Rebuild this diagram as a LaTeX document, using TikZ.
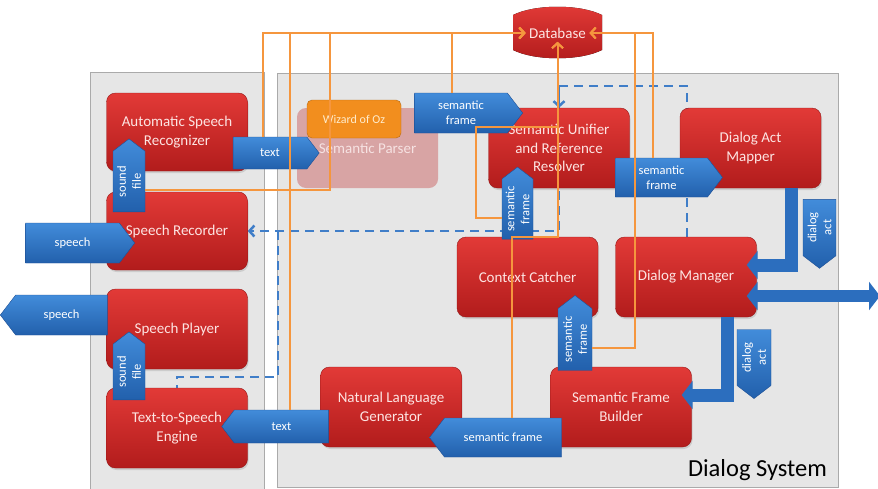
\documentclass[tikz,border=0pt]{standalone}
\usepackage{fontspec}
\setmainfont{Carlito}
\usetikzlibrary{shapes.symbols,arrows.meta,shadows}

\definecolor{boxtop}{RGB}{226,58,55}
\definecolor{boxbot}{RGB}{178,28,28}
\definecolor{boxtxt}{RGB}{253,228,226}
\definecolor{sigtop}{RGB}{66,140,218}
\definecolor{sigbot}{RGB}{34,96,172}
\definecolor{sigline}{RGB}{30,80,150}
\definecolor{orln}{RGB}{245,150,62}
\definecolor{dsh}{RGB}{64,126,200}
\definecolor{barblue}{RGB}{44,110,190}
\definecolor{panel}{RGB}{230,230,230}
\definecolor{panelln}{RGB}{170,170,170}
\definecolor{parsefill}{RGB}{216,164,164}
\definecolor{parsetxt}{RGB}{246,226,226}
\definecolor{wozfill}{RGB}{242,142,30}
\definecolor{woztxt}{RGB}{255,236,204}

\pgfdeclarelayer{bg}
\pgfsetlayers{bg,main}

\tikzset{
  redbox/.style={rounded corners=9pt, top color=boxtop, bottom color=boxbot,
    draw=boxbot!85!black, line width=0.4pt, text=boxtxt, align=center,
    font=\fontsize{15}{18.5}\selectfont, minimum width=141pt, minimum height=80pt,
    inner sep=0pt, drop shadow={opacity=0.25, shadow xshift=1pt, shadow yshift=-2pt}},
  parserbox/.style={rounded corners=9pt, fill=parsefill, text=parsetxt,
    font=\fontsize{15}{18}\selectfont, minimum width=141pt, minimum height=80pt, inner sep=0pt},
  wozbox/.style={rounded corners=5pt, fill=wozfill, draw=wozfill!75!black, text=woztxt,
    font=\fontsize{12}{14}\selectfont, minimum width=94pt, minimum height=38pt, inner sep=0pt},
  sig/.style={signal, signal from=nowhere, signal pointer angle=105,
    top color=sigtop, bottom color=sigbot, draw=sigline, line width=0.4pt,
    text=white, align=center, font=\fontsize{12.5}{15}\selectfont, inner sep=0pt},
  oline/.style={draw=orln, line width=2pt, -{Straight Barb[length=5pt,width=11pt]}},
  dline/.style={draw=dsh, line width=2.5pt, dash pattern=on 9pt off 6pt},
  bar/.style={draw=barblue, line width=13pt},
  btip/.tip={Triangle[length=11pt,width=28pt]},
}

\begin{document}
\begin{tikzpicture}[x=1pt,y=-1pt]
  \useasboundingbox (0,0) rectangle (878,488);

  % modules
  \node[redbox, minimum height=78pt] (asr) at (177,132) {Automatic Speech\\Recognizer};
  \node[redbox, minimum height=78pt] (rec) at (177,231) {Speech Recorder};
  \node[redbox] (ply) at (177,329) {Speech Player};
  \node[redbox] (tts) at (177,428) {Text-to-Speech\\Engine};
  \node[parserbox] (parser) at (367.5,148) {Semantic Parser};
  \node[wozbox] (woz) at (354,119) {Wizard of Oz};
  \node[text=boxtxt, font=\fontsize{15}{18}\selectfont] (db) at (557.5,33) {Database};
  \node[redbox] (su) at (559,148) {Semantic Unifier\\and Reference\\Resolver};
  \node[redbox] (dam) at (750.5,148) {Dialog Act\\Mapper};
  \node[redbox] (cc) at (527.5,277) {Context Catcher};
  \node[redbox] (dm) at (686,277) {Dialog Manager};
  \node[redbox] (nlg) at (391,407) {Natural Language\\Generator};
  \node[redbox] (sfb) at (621,407) {Semantic Frame\\Builder};
  \node[font=\fontsize{24.5}{28}\selectfont] (dsys) at (757.5,470) {Dialog System};
  \coordinate (outside) at (880,296);

  \begin{pgfonlayer}{bg}
    % panels
    \filldraw[fill=panel, draw=panelln] (90,72) rectangle (264,490);
    \filldraw[fill=panel, draw=panelln] (277,73) rectangle (838,487);
    % database barrel
    \fill[top color=boxtop, bottom color=boxbot] (513,15) .. controls (535,4) and (580,4) .. (602,15)
      -- (602,50) .. controls (580,61) and (535,61) .. (513,50) -- cycle;
    % control flow (dashed)
    \draw[dline, -{Straight Barb[length=5pt,width=11pt]}] (687,0 |- dm.north) |- (su.north |- 0,86) -- (su.north);
    \draw[dline, -{Straight Barb[length=5pt,width=11pt]}] (su.north |- 0,86) |- (rec.east);
    \draw[dline] (278,0 |- rec.east) |- (tts.north |- 0,377) -- (tts.north);
  \end{pgfonlayer}

  % thick blue flows
  \draw[bar, -btip, shorten >=-10pt] (791,0 |- dam.south) |- (dm.east |- 0,265);
  \draw[bar, -btip, shorten >=-10pt] (727,0 |- dm.south) |- (sfb.east |- 0,395);
  \draw[bar, line width=12pt, btip-btip, shorten <=-10pt] (dm.east |- 0,296) -- (outside);

  % data labels
  \node[sig, signal to=east, minimum width=86pt, minimum height=32pt] (txtA) at (270,153) {text};
  \node[sig, signal to=east, rotate=90, minimum width=73pt, minimum height=32pt] (sndA) at (129,181.5) {sound\\file};
  \node[sig, signal to=east, minimum width=109pt, minimum height=40pt] (spIn) at (72.5,243) {speech};
  \node[sig, signal to=west, minimum width=107pt, minimum height=40pt] (spOut) at (61.5,315) {speech};
  \node[sig, signal to=east, rotate=90, minimum width=68pt, minimum height=32pt] (sndB) at (129,372) {sound\\file};
  \node[sig, signal to=west, minimum width=107pt, minimum height=33pt] (txtB) at (281.5,426.5) {text};
  \node[sig, signal to=east, minimum width=108pt, minimum height=40pt] (semA) at (461,113) {semantic\\frame};
  \node[sig, signal to=east, rotate=90, minimum width=72pt, minimum height=31pt] (semB) at (517.5,209) {semantic\\frame};
  \node[sig, signal to=east, minimum width=107pt, minimum height=39pt] (semC) at (661.5,177.5) {semantic\\frame};
  \node[sig, signal to=west, rotate=90, minimum width=69pt, minimum height=33pt] (actA) at (819.5,227.5) {dialog\\act};
  \node[sig, signal to=west, rotate=90, minimum width=69pt, minimum height=34pt] (actB) at (754,357.5) {dialog\\act};
  \node[sig, signal to=east, rotate=90, minimum width=75pt, minimum height=34pt] (semD) at (575,339.5) {semantic\\frame};
  \node[sig, signal to=west, minimum width=132pt, minimum height=39pt] (semE) at (503,437.5) {semantic frame};

  % database links
  \draw[oline] (263,0 |- txtA.north) |- (db.west);
  \draw[oline] (sndA.south |- 0,190) -| (330,33) -- (db.west);
  \draw[oline] (290,0 |- txtB.north) |- (db.west);
  \draw[oline] (452,0 |- semA.north) |- (db.west);
  \draw[oline] (semB.north |- 0,218) -| (476,127) -| (db.south);
  \draw[oline] (512,0 |- semE.north) |- (db.south |- 0,237) -- (db.south);
  \draw[oline] (653,0 |- semC.north) |- (db.east);
  \draw[oline] (semD.south |- 0,348) -| (635,33) -- (db.east);
\end{tikzpicture}
\end{document}
